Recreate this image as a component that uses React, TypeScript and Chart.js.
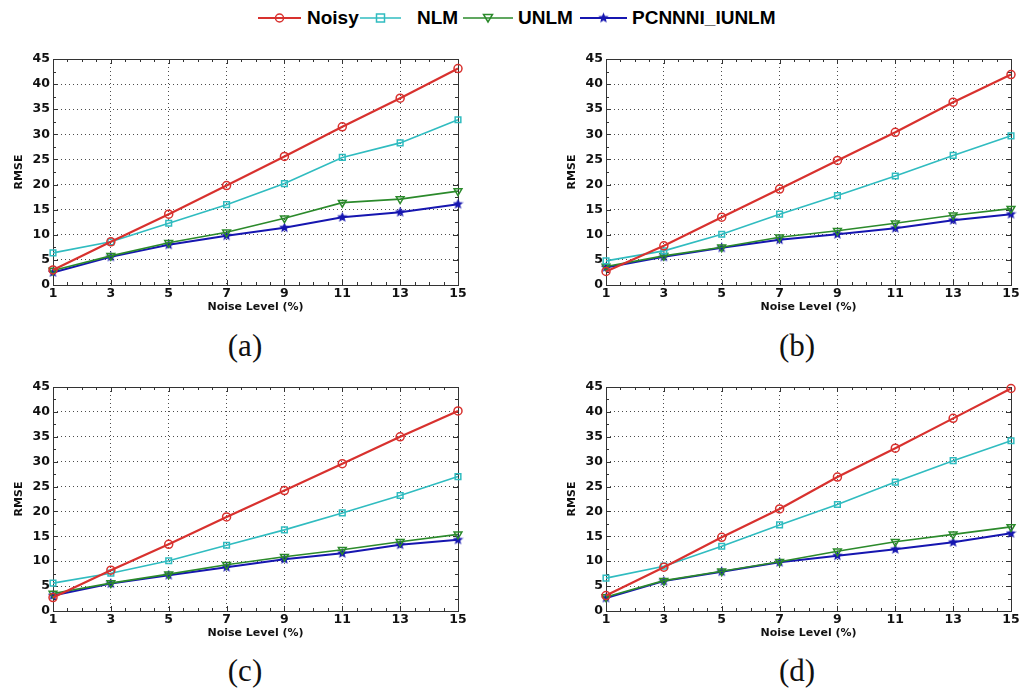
import React, { useEffect, useRef } from "react";
import { Chart, registerables } from "chart.js";

Chart.register(...registerables);

// ---------------- data ----------------
const noiseLevels = [1, 3, 5, 7, 9, 11, 13, 15];
const yTickValues = [0, 5, 10, 15, 20, 25, 30, 35, 40, 45];
const seriesNames = ["Noisy", "NLM", "UNLM", "PCNNNI_IUNLM"];
const xAxisTitle = "Noise Level (%)";
const yAxisTitle = "RMSE";
const panelCaptions = ["(a)", "(b)", "(c)", "(d)"];

const noisyA = [3.0, 8.6, 14.1, 19.8, 25.6, 31.5, 37.2, 43.1];
const nlmA = [6.4, 8.6, 12.3, 16.0, 20.2, 25.4, 28.3, 32.9];
const unlmA = [2.9, 5.8, 8.4, 10.5, 13.3, 16.4, 17.1, 18.7];
const pcnA = [2.5, 5.6, 8.0, 9.8, 11.4, 13.5, 14.5, 16.1];

const noisyB = [2.7, 7.8, 13.5, 19.1, 24.8, 30.4, 36.4, 41.9];
const nlmB = [4.8, 6.8, 10.1, 14.1, 17.8, 21.7, 25.8, 29.7];
const unlmB = [3.7, 5.8, 7.5, 9.5, 10.8, 12.3, 13.9, 15.2];
const pcnB = [3.5, 5.6, 7.4, 9.0, 10.1, 11.3, 12.9, 14.1];

const noisyC = [2.7, 8.2, 13.4, 18.9, 24.2, 29.6, 35.0, 40.2];
const nlmC = [5.6, 7.6, 10.1, 13.2, 16.3, 19.7, 23.2, 27.0];
const unlmC = [3.5, 5.6, 7.4, 9.3, 10.9, 12.3, 13.9, 15.4];
const pcnC = [3.1, 5.5, 7.2, 8.8, 10.4, 11.6, 13.3, 14.3];

const noisyD = [3.1, 8.8, 14.8, 20.5, 26.9, 32.7, 38.7, 44.7];
const nlmD = [6.6, 9.0, 13.0, 17.3, 21.4, 25.9, 30.2, 34.2];
const unlmD = [2.8, 6.1, 8.0, 9.9, 12.0, 13.9, 15.4, 16.9];
const pcnD = [2.6, 6.0, 7.9, 9.8, 11.1, 12.4, 13.8, 15.6];

// ---------------- styles ----------------
const COLORS = ["#d8312e", "#30bcc0", "#2b8a2b", "#1616b0"];
const LINE_WIDTHS = [2.2, 1.6, 1.6, 2];
const TICK_FONT = { family: "'DejaVu Sans', sans-serif", weight: "bold" as const, size: 12.5 };
const TITLE_FONT = { family: "'DejaVu Sans', sans-serif", weight: "bold" as const, size: 11 };

// legend layout (page px)
const LEGEND_LINE_LEFT = [258, 360, 463, 580];
const LEGEND_LINE_LEN = [43, 41, 50, 47];
const LEGEND_TEXT_LEFT = [307, 417, 518, 632];

function makeStar(size: number, color: string): HTMLCanvasElement {
  const c = document.createElement("canvas");
  c.width = size;
  c.height = size;
  const ctx = c.getContext("2d")!;
  const cx = size / 2, cy = size / 2;
  const R = size / 2, r = R * 0.45;
  ctx.beginPath();
  for (let i = 0; i < 10; i++) {
    const ang = -Math.PI / 2 + (i * Math.PI) / 5;
    const rad = i % 2 === 0 ? R : r;
    const px = cx + rad * Math.cos(ang);
    const py = cy + rad * Math.sin(ang);
    if (i === 0) ctx.moveTo(px, py);
    else ctx.lineTo(px, py);
  }
  ctx.closePath();
  ctx.fillStyle = color;
  ctx.fill();
  return c;
}

type Area = { l: number; t: number; r: number; b: number };

const Y_SCALE_W = 53;
const X_SCALE_H = 29;
const PAD_TOP = 20;
const PAD_RIGHT = 13;
const PAD_BOTTOM = 2;

const boxPlugin = {
  id: "matlabBox",
  beforeDatasetsDraw(chart: any) {
    const { ctx, chartArea } = chart;
    const { left, right, top, bottom } = chartArea;
    const xs = chart.scales.x;
    const ys = chart.scales.y;
    ctx.save();
    ctx.strokeStyle = "#333";
    ctx.lineWidth = 1;
    ctx.beginPath();
    const xMin = noiseLevels[0];
    const xMax = noiseLevels[noiseLevels.length - 1];
    for (let v = xMin; v <= xMax + 1e-9; v += 0.5) {
      const px = Math.round(xs.getPixelForValue(v)) + 0.5;
      const major = noiseLevels.includes(v);
      const len = major ? 5 : 3;
      ctx.moveTo(px, bottom);
      ctx.lineTo(px, bottom - len);
      ctx.moveTo(px, top);
      ctx.lineTo(px, top + len);
    }
    const yMax = yTickValues[yTickValues.length - 1];
    for (let v = 0; v <= yMax + 1e-9; v += 2.5) {
      const py = Math.round(ys.getPixelForValue(v)) + 0.5;
      const major = yTickValues.includes(v);
      const len = major ? 5 : 3;
      ctx.moveTo(left, py);
      ctx.lineTo(left + len, py);
      ctx.moveTo(right, py);
      ctx.lineTo(right - len, py);
    }
    ctx.stroke();
    ctx.strokeRect(Math.round(left) + 0.5, Math.round(top) + 0.5, Math.round(right - left), Math.round(bottom - top));
    ctx.restore();
  },
};

function Panel({ area, series, star }: { area: Area; series: number[][]; star: HTMLCanvasElement }) {
  const ref = useRef<HTMLCanvasElement>(null);
  const canvasLeft = area.l - Y_SCALE_W;
  const canvasTop = area.t - PAD_TOP;
  const width = area.r - canvasLeft + PAD_RIGHT;
  const height = area.b - canvasTop + X_SCALE_H + PAD_BOTTOM;

  useEffect(() => {
    if (!ref.current) return;
    const pointStyles: any[] = ["circle", "rect", "triangle", star];
    const rotations = [0, 0, 180, 0];
    const radii = [4, 4, 4.5, 5];
    const chart = new Chart(ref.current, {
      type: "line",
      data: {
        datasets: series.map((vals, i) => ({
          label: seriesNames[i],
          data: vals.map((v, j) => ({ x: noiseLevels[j], y: v })),
          borderColor: COLORS[i],
          backgroundColor: "rgba(0,0,0,0)",
          borderWidth: LINE_WIDTHS[i],
          pointStyle: pointStyles[i],
          pointRotation: rotations[i],
          pointRadius: radii[i],
          pointBorderWidth: 1.5,
          pointBorderColor: COLORS[i],
          pointBackgroundColor: "rgba(0,0,0,0)",
          tension: 0,
          clip: false as any,
        })),
      },
      options: {
        animation: false,
        responsive: false,
        maintainAspectRatio: false,
        events: [],
        layout: {
          autoPadding: false,
          padding: { top: PAD_TOP, right: PAD_RIGHT, bottom: PAD_BOTTOM, left: 0 },
        },
        plugins: { legend: { display: false }, tooltip: { enabled: false } },
        scales: {
          x: {
            type: "linear",
            min: noiseLevels[0],
            max: noiseLevels[noiseLevels.length - 1],
            afterBuildTicks: (s: any) => {
              s.ticks = noiseLevels.map((v) => ({ value: v }));
            },
            afterFit: (s: any) => {
              s.height = X_SCALE_H;
            },
            ticks: { font: TICK_FONT, color: "#111", padding: 1, maxRotation: 0, autoSkip: false },
            grid: { color: "rgba(0,0,0,0.7)", lineWidth: 1, drawTicks: false },
            border: { display: false, dash: [1, 3] },
            title: { display: true, text: xAxisTitle, font: TITLE_FONT, color: "#111", padding: { top: 0, bottom: 0 } },
          },
          y: {
            type: "linear",
            min: 0,
            max: yTickValues[yTickValues.length - 1],
            afterBuildTicks: (s: any) => {
              s.ticks = yTickValues.map((v) => ({ value: v }));
            },
            afterFit: (s: any) => {
              s.width = Y_SCALE_W;
            },
            ticks: { font: TICK_FONT, color: "#111", padding: 3 },
            grid: { color: "rgba(0,0,0,0.7)", lineWidth: 1, drawTicks: false },
            border: { display: false, dash: [1, 3] },
            title: { display: true, text: yAxisTitle, font: TITLE_FONT, color: "#111", padding: { top: 12.5, bottom: 0 } },
          },
        },
      },
      plugins: [boxPlugin],
    } as any);
    return () => chart.destroy();
  }, [area, series, star]);

  return (
    <canvas
      ref={ref}
      width={width}
      height={height}
      style={{ position: "absolute", left: canvasLeft, top: canvasTop, width, height }}
    />
  );
}

function LegendMarker({ idx, star }: { idx: number; star: string }) {
  const c = COLORS[idx];
  const w = LEGEND_LINE_LEN[idx];
  const m = w / 2;
  let marker: React.ReactNode = null;
  if (idx === 0) marker = <circle cx={m} cy={10} r={4} fill="none" stroke={c} strokeWidth={1.5} />;
  if (idx === 1) marker = <rect x={m - 4} y={6} width={8} height={8} fill="none" stroke={c} strokeWidth={1.5} />;
  if (idx === 2) marker = <polygon points={`${m - 4.5},6.5 ${m + 4.5},6.5 ${m},14`} fill="none" stroke={c} strokeWidth={1.5} />;
  if (idx === 3) marker = <image href={star} x={m - 5.5} y={4.5} width={11} height={11} />;
  return (
    <svg
      width={w}
      height={20}
      style={{ position: "absolute", left: LEGEND_LINE_LEFT[idx], top: 8, display: "block" }}
    >
      <line x1={0} y1={10} x2={w} y2={10} stroke={c} strokeWidth={LINE_WIDTHS[idx]} />
      {marker}
    </svg>
  );
}

const PANELS: { area: Area; series: number[][]; caption: string; capX: number; capY: number }[] = [
  { area: { l: 53, t: 59, r: 458, b: 285 }, series: [noisyA, nlmA, unlmA, pcnA], caption: panelCaptions[0], capX: 245, capY: 346 },
  { area: { l: 606, t: 59, r: 1011, b: 285 }, series: [noisyB, nlmB, unlmB, pcnB], caption: panelCaptions[1], capX: 797, capY: 346 },
  { area: { l: 53, t: 387, r: 458, b: 611 }, series: [noisyC, nlmC, unlmC, pcnC], caption: panelCaptions[2], capX: 245, capY: 671 },
  { area: { l: 606, t: 387, r: 1011, b: 611 }, series: [noisyD, nlmD, unlmD, pcnD], caption: panelCaptions[3], capX: 797, capY: 671 },
];

export default function App() {
  const starCanvas = React.useMemo(() => makeStar(11, COLORS[3]), []);
  const starUrl = React.useMemo(() => starCanvas.toDataURL(), [starCanvas]);
  return (
    <div style={{ position: "absolute", left: 0, top: 0, width: 1024, height: 693, background: "#fff", overflow: "hidden" }}>
      {seriesNames.map((n, i) => (
        <React.Fragment key={n}>
          <LegendMarker idx={i} star={starUrl} />
          <div
            style={{
              position: "absolute",
              left: LEGEND_TEXT_LEFT[i],
              top: 6,
              height: 24,
              lineHeight: "24px",
              fontFamily: "'Liberation Sans', Arial, sans-serif",
              fontWeight: "bold",
              fontSize: 19,
              color: "#000",
              whiteSpace: "nowrap",
            }}
          >
            {n}
          </div>
        </React.Fragment>
      ))}
      {PANELS.map((p, i) => (
        <React.Fragment key={i}>
          <Panel area={p.area} series={p.series} star={starCanvas} />
          <div
            style={{
              position: "absolute",
              left: p.capX - 40,
              width: 80,
              top: p.capY - 20,
              height: 40,
              lineHeight: "40px",
              textAlign: "center",
              fontFamily: "'Liberation Serif', 'Times New Roman', serif",
              fontSize: 31,
              color: "#111",
            }}
          >
            {p.caption}
          </div>
        </React.Fragment>
      ))}
    </div>
  );
}
